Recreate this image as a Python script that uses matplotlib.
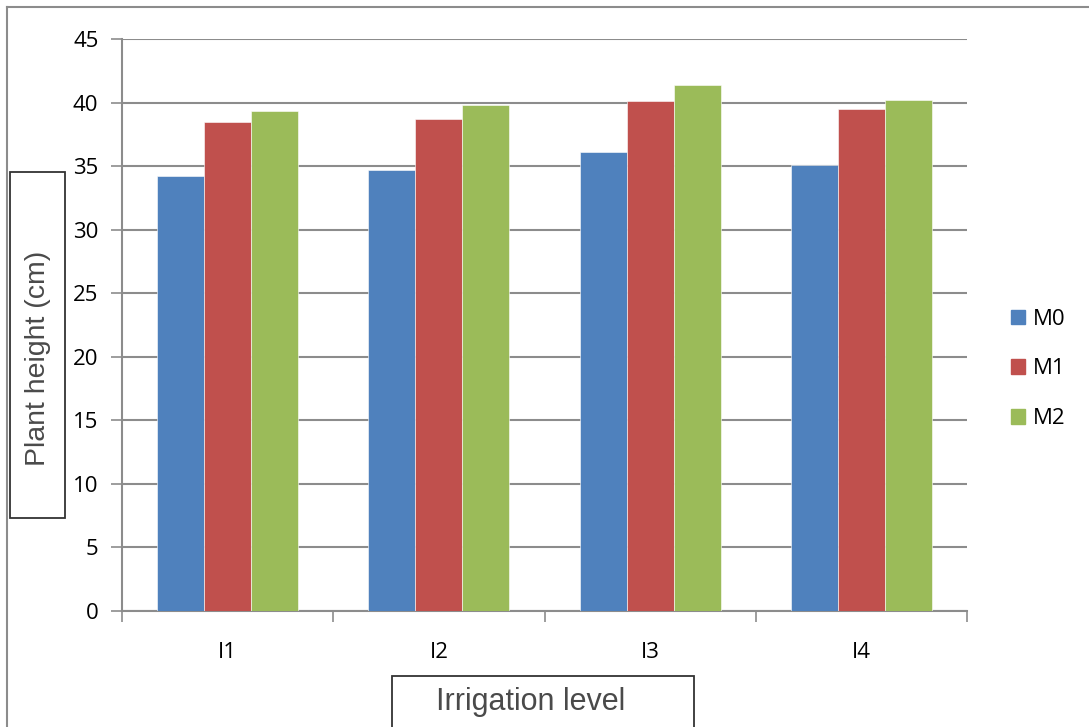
import numpy as np
import matplotlib.pyplot as plt
from matplotlib.patches import Rectangle
from matplotlib.lines import Line2D

levels = ['I1', 'I2', 'I3', 'I4']
series = ['M0', 'M1', 'M2']
m0 = [34.2, 34.7, 36.1, 35.1]
m1 = [38.5, 38.7, 40.1, 39.5]
m2 = [39.3, 39.8, 41.4, 40.2]
colors = ['#4f81bd', '#c0504d', '#9bbb59']
yticks = [0, 5, 10, 15, 20, 25, 30, 35, 40, 45]

grid_c = '#8c8c8c'
tick_font = 'Open Sans'
label_font = 'Liberation Sans'
tick_size = 16

fig = plt.figure(figsize=(10.89, 7.27), dpi=100)
ax = fig.add_axes([122 / 1089, 116 / 727, 845 / 1089, 572 / 727])

x = np.arange(len(levels))
w = 1 / 4.5
for i, (vals, c) in enumerate(zip([m0, m1, m2], colors)):
    ax.bar(x + (i - 1) * w, vals, width=w, color=c, edgecolor='white',
           linewidth=0.4, zorder=3, label=series[i])

ax.set_xlim(-0.5, len(levels) - 0.5)
ax.set_ylim(0, 45)
ax.set_yticks(yticks)
ax.set_yticklabels([str(t) for t in yticks], fontfamily=tick_font, fontsize=tick_size)
ax.yaxis.grid(True, color=grid_c, linewidth=1.5, zorder=0)
ax.tick_params(axis='y', length=8, width=1.2, color=grid_c, pad=9)

# category labels at centres, tick marks at the boundaries
ax.set_xticks(x)
ax.set_xticklabels(levels, fontfamily=tick_font, fontsize=tick_size)
ax.tick_params(axis='x', length=0, pad=22)
ax.set_xticks(np.arange(len(levels) + 1) - 0.5, minor=True)
ax.tick_params(axis='x', which='minor', length=8, width=1.2, color=grid_c)

for s in ['top', 'right']:
    ax.spines[s].set_visible(False)
for s in ['left', 'bottom']:
    ax.spines[s].set_color(grid_c)
    ax.spines[s].set_linewidth(1.5)

# legend
handles = [Rectangle((0, 0), 1, 1, color=c) for c in colors]
leg = fig.legend(handles, series, loc='center left', bbox_to_anchor=(991 / 1089, 1 - 369 / 727),
                 frameon=False, handlelength=0.62, handleheight=0.62,
                 labelspacing=1.3, handletextpad=0.35,
                 prop={'family': tick_font, 'size': tick_size})

# boxed axis titles
fig.patches.append(Rectangle((10 / 1089, 1 - 518 / 727), 55 / 1089, 346 / 727,
                             transform=fig.transFigure, fill=False,
                             edgecolor='#333333', linewidth=1.3))
fig.text(38 / 1089, 1 - 358 / 727, 'Plant height (cm)', rotation=90,
         ha='center', va='center', fontfamily=label_font, fontsize=20.5,
         color='#4a4a4a')
fig.patches.append(Rectangle((392 / 1089, -0.01), 302 / 1089, 0.01 + 51 / 727,
                             transform=fig.transFigure, fill=False,
                             edgecolor='#333333', linewidth=1.3))
fig.text(531 / 1089, 1 - 702 / 727, 'Irrigation level', ha='center',
         va='center', fontfamily=label_font, fontsize=22, color='#4a4a4a')

# outer frame along top and left
fig.add_artist(Line2D([7 / 1089, 1], [1 - 7 / 727, 1 - 7 / 727],
                      transform=fig.transFigure, color=grid_c, linewidth=1.5))
fig.add_artist(Line2D([7 / 1089, 7 / 1089], [0, 1 - 7 / 727],
                      transform=fig.transFigure, color=grid_c, linewidth=1.5))

fig.savefig('out.png', dpi=100)
